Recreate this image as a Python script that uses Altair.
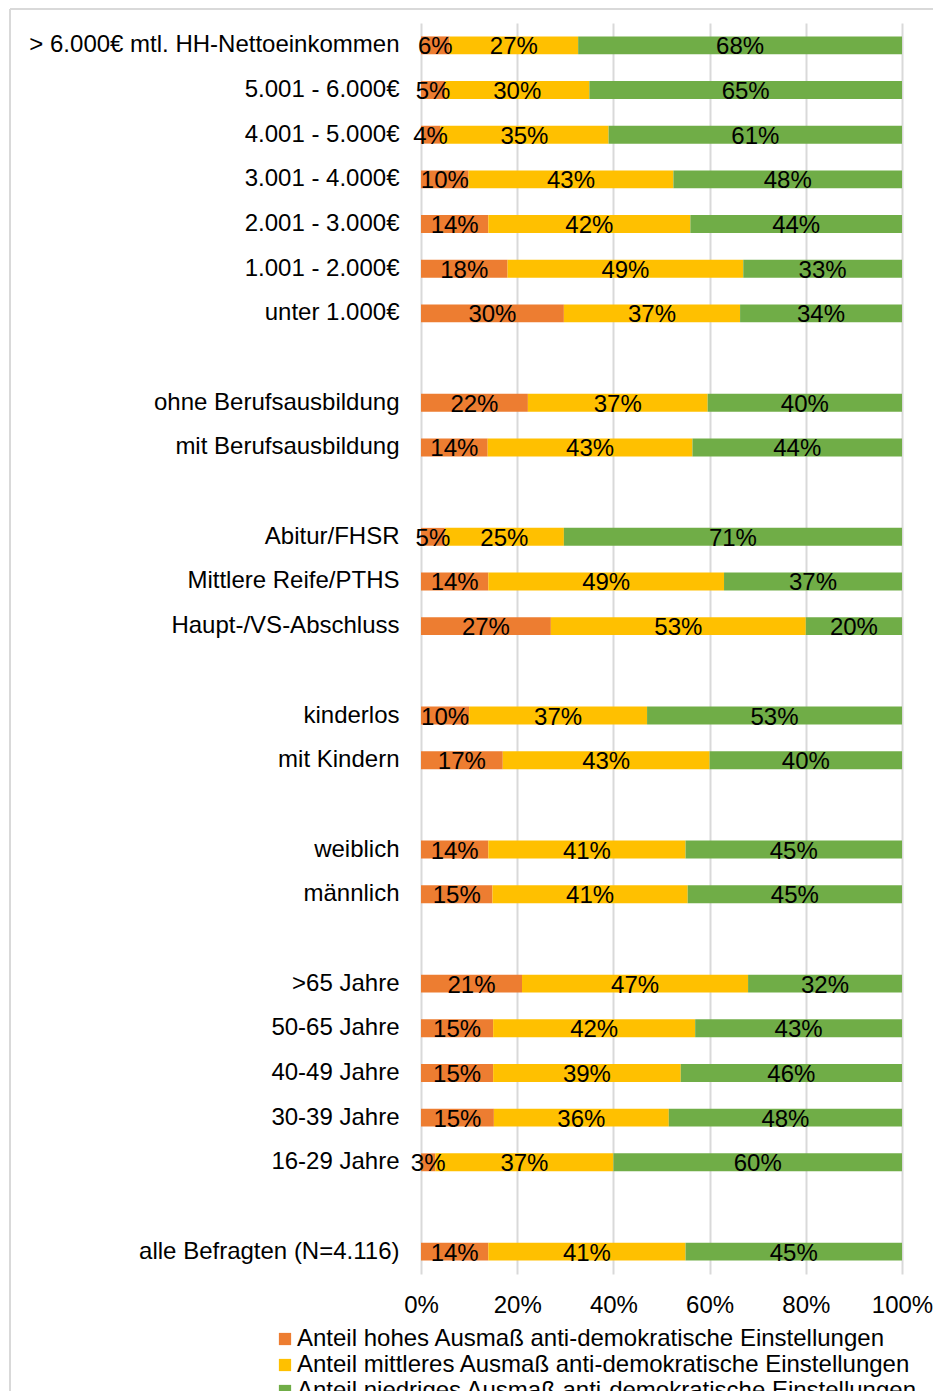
import altair as alt
import pandas as pd

categories = [
    "> 6.000€ mtl. HH-Nettoeinkommen", "5.001 - 6.000€", "4.001 - 5.000€",
    "3.001 - 4.000€", "2.001 - 3.000€", "1.001 - 2.000€", "unter 1.000€", " ",
    "ohne Berufsausbildung", "mit Berufsausbildung", "  ",
    "Abitur/FHSR", "Mittlere Reife/PTHS", "Haupt-/VS-Abschluss", "   ",
    "kinderlos", "mit Kindern", "    ",
    "weiblich", "männlich", "     ",
    ">65 Jahre", "50-65 Jahre", "40-49 Jahre", "30-39 Jahre", "16-29 Jahre", "      ",
    "alle Befragten (N=4.116)",
]
hoch = [6, 5, 4, 10, 14, 18, 30, None, 22, 14, None, 5, 14, 27, None, 10, 17, None,
        14, 15, None, 21, 15, 15, 15, 3, None, 14]
mittel = [27, 30, 35, 43, 42, 49, 37, None, 37, 43, None, 25, 49, 53, None, 37, 43, None,
          41, 41, None, 47, 42, 39, 36, 37, None, 41]
niedrig = [68, 65, 61, 48, 44, 33, 34, None, 40, 44, None, 71, 37, 20, None, 53, 40, None,
           45, 45, None, 32, 43, 46, 48, 60, None, 45]
series = [
    "Anteil hohes Ausmaß anti-demokratische Einstellungen",
    "Anteil mittleres Ausmaß anti-demokratische Einstellungen",
    "Anteil niedriges Ausmaß anti-demokratische Einstellungen",
]
colors = ["#ED7D31", "#FFC000", "#70AD47"]
ticks = [0, 0.2, 0.4, 0.6, 0.8, 1.0]

rows = []
for i, cat in enumerate(categories):
    vals = [hoch[i], mittel[i], niedrig[i]]
    if vals[0] is None:
        continue
    total = sum(vals)
    cum = 0
    for s, v in zip(series, vals):
        rows.append({"cat": cat, "series": s, "value": v, "order": series.index(s),
                     "x0": cum / total, "x1": (cum + v) / total,
                     "mid": (cum + v / 2) / total, "label": f"{v}%"})
        cum += v
df = pd.DataFrame(rows)

FONT = "Liberation Sans"
FS = 24
ysc = alt.Scale(domain=categories, paddingInner=0.6, paddingOuter=0.3)
xsc = alt.Scale(domain=[0, 1])

base = alt.Chart(df)
bars = base.mark_bar().encode(
    y=alt.Y("cat:N", scale=ysc, sort=categories,
            axis=alt.Axis(title=None, ticks=False, domain=False, labelPadding=22,
                          labelFontSize=FS, labelFont=FONT, labelColor="#000000",
                          labelLimit=500)),
    x=alt.X("x0:Q", scale=xsc,
            axis=alt.Axis(title=None, values=ticks, format=".0%", ticks=False, domain=False,
                          grid=True, gridColor="#D9D9D9", gridWidth=2, labelPadding=19,
                          labelFlush=False, labelFontSize=FS, labelFont=FONT,
                          labelColor="#000000")),
    x2="x1:Q",
    color=alt.Color("series:N", scale=alt.Scale(domain=series, range=colors),
                    legend=alt.Legend(title=None, orient="none", legendX=-148, legendY=1304,
                                      symbolType="square", symbolSize=150, symbolStrokeWidth=0,
                                      labelFontSize=FS, labelFont=FONT, labelColor="#000000",
                                      labelOffset=0, rowPadding=2, labelLimit=800)),
    order="order:Q",
)
text = base.mark_text(fontSize=FS, font=FONT, color="#000000", baseline="middle", dy=2).encode(
    y=alt.Y("cat:N", scale=ysc, sort=categories),
    x=alt.X("mid:Q", scale=xsc),
    text="label:N",
)

frame_df = pd.DataFrame({"f": [0]})
frame_left = alt.Chart(frame_df).mark_rule(color="#D9D9D9", strokeWidth=2, clip=False).encode(
    x=alt.value(-411), y=alt.value(-14), y2=alt.value(1400))
frame_top = alt.Chart(frame_df).mark_rule(color="#D9D9D9", strokeWidth=2, clip=False).encode(
    x=alt.value(-411), x2=alt.value(560), y=alt.value(-14))

chart = alt.layer(frame_left, frame_top, bars, text).properties(
    width=481, height=1251,
    autosize=alt.AutoSizeParams(type="none"),
    padding={"left": 413, "top": 15, "right": 31, "bottom": 117},
).configure_view(stroke=None)

chart.save("out.html", embed_options={"renderer": "svg", "actions": False})
